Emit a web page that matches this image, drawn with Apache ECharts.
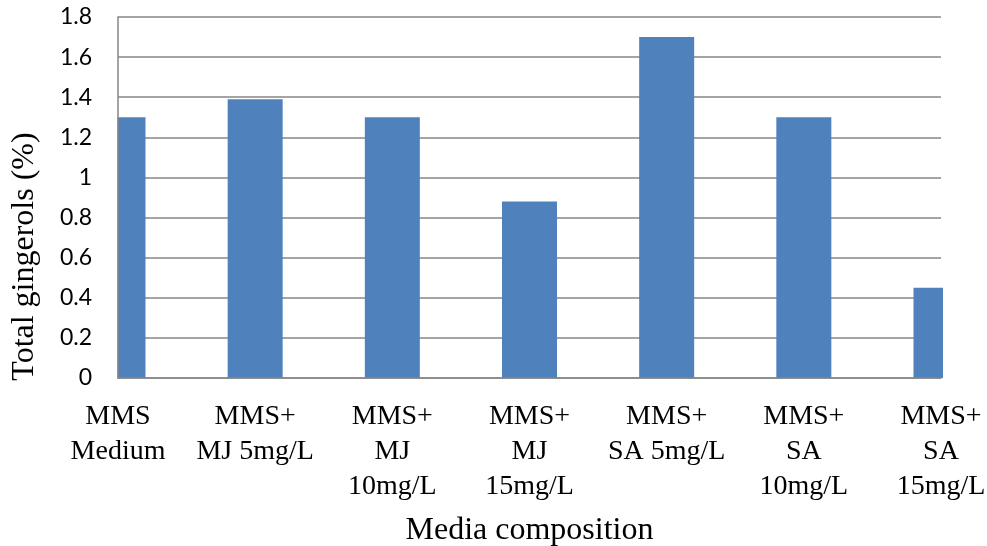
<!DOCTYPE html>
<html>
<head>
<meta charset="utf-8">
<script src="https://cdn.jsdelivr.net/npm/echarts@6/dist/echarts.min.js"></script>
<style>
  html, body { margin: 0; padding: 0; background: #fff; }
  #chart { width: 987px; height: 546px; }
</style>
</head>
<body>
<div id="chart"></div>
<script>
// Media treatments (wrapped as in the axis labels)
const categories = [
  'MMS\nMedium',
  'MMS+\nMJ 5mg/L',
  'MMS+\nMJ\n10mg/L',
  'MMS+\nMJ\n15mg/L',
  'MMS+\nSA 5mg/L',
  'MMS+\nSA\n10mg/L',
  'MMS+\nSA\n15mg/L'
];
// Total gingerols (%) per medium
const gingerols = [1.30, 1.39, 1.30, 0.88, 1.70, 1.30, 0.45];
// Value axis range
const yMin = 0, yMax = 1.8, yStep = 0.2;

const W = 987, H = 546;
const G = { left: 118, right: 46, top: 17, bottom: 168 };
const barW = 55;
const gridColor = '#868686';

const chart = echarts.init(document.getElementById('chart'));
chart.setOption({
  animation: false,
  backgroundColor: '#ffffff',
  grid: Object.assign({ containLabel: false, outerBoundsMode: 'none' }, G),
  // White panels trimming the edge bars to the plot frame
  graphic: [
    { type: 'rect', z: 3, silent: true,
      shape: { x: 0, y: 0, width: G.left - 0.5, height: H - G.bottom + 1 },
      style: { fill: '#ffffff' } },
    { type: 'rect', z: 3, silent: true,
      shape: { x: W - G.right + 2, y: 0, width: G.right, height: H - G.bottom + 1 },
      style: { fill: '#ffffff' } }
  ],
  xAxis: {
    type: 'category',
    data: categories,
    boundaryGap: false,
    z: 5,
    name: 'Media composition',
    nameLocation: 'middle',
    nameGap: 137,
    nameTextStyle: { fontFamily: 'Liberation Serif', fontSize: 32, color: '#000' },
    axisLine: { show: true, lineStyle: { color: gridColor, width: 1.5 } },
    axisTick: { show: false },
    splitLine: { show: false },
    axisLabel: {
      interval: 0,
      margin: 21,
      fontFamily: 'Liberation Serif',
      fontSize: 28,
      lineHeight: 35,
      color: '#000',
      align: 'center'
    }
  },
  yAxis: [
    {
      // gridlines behind the bars
      type: 'value',
      min: yMin, max: yMax, interval: yStep,
      z: 0,
      axisLine: { show: false },
      axisTick: { show: false },
      axisLabel: { show: false },
      splitLine: { show: true, lineStyle: { color: gridColor, width: 1.5 } }
    },
    {
      // labels, axis line and title above the trimming panels
      type: 'value',
      position: 'left',
      min: yMin, max: yMax, interval: yStep,
      z: 5,
      name: 'Total gingerols (%)',
      nameLocation: 'middle',
      nameGap: 77,
      nameTextStyle: {
        fontFamily: 'Liberation Serif', fontSize: 32, color: '#000',
        padding: [0, 118, 0, 0]
      },
      axisLine: { show: true, lineStyle: { color: gridColor, width: 1.5 } },
      axisTick: { show: false },
      splitLine: { show: false },
      axisLabel: {
        margin: 26,
        fontFamily: 'Lato',
        fontSize: 23,
        color: '#000'
      }
    }
  ],
  series: [{
    type: 'bar',
    data: gingerols,
    barWidth: barW,
    z: 2,
    itemStyle: { color: '#4F81BD' }
  }]
});
</script>
</body>
</html>
